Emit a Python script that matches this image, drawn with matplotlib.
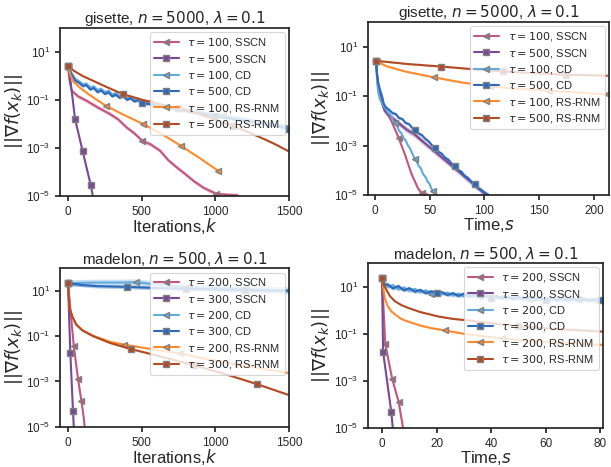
import numpy as np
import matplotlib
matplotlib.use('Agg')
import matplotlib.pyplot as plt
import seaborn as sns

# ---- colours ----
C_SSCN_A = '#c2577f'   # small tau SSCN
C_SSCN_B = '#7b4896'   # large tau SSCN
C_CD_A = '#62a9dc'
C_CD_B = '#2c69b8'
C_RS_A = '#ff8a2b'
C_RS_B = '#b24a22'

# ===== gisette, iterations (values as log10 ||grad||) =====
gi_sscn100_k = [0, 12, 25, 70, 127, 200, 285, 340, 398, 450, 505, 560, 625, 680, 738, 800, 851, 920, 1005, 1080, 1150]
gi_sscn100_e = [0.40, -0.25, -0.61, -0.85, -1.03, -1.30, -1.58, -1.80, -2.14, -2.38, -2.70, -2.84, -3.11, -3.50,
                -3.80, -4.10, -4.36, -4.65, -4.90, -4.94, -4.96]
gi_sscn500_k = [0, 8, 14, 48, 100, 154, 172]
gi_sscn500_e = [0.40, 0.10, -0.05, -1.79, -3.14, -4.53, -5.10]
gi_cd_k = [0, 25, 50, 75, 100, 125, 150, 175, 200, 225, 250, 275, 300, 325, 350, 375, 400, 425, 450, 475, 500,
           550, 600, 650, 700, 750, 800, 850, 900, 950, 1000, 1050, 1100, 1150, 1200, 1250, 1300, 1350, 1400, 1450, 1500]
gi_cd500_e = [0.40, 0.05, -0.20, -0.28, -0.42, -0.38, -0.56, -0.50, -0.67, -0.60, -0.75, -0.68, -0.85, -0.78,
              -0.91, -0.85, -0.99, -0.93, -1.06, -1.01, -1.13, -1.17, -1.23, -1.30, -1.34, -1.43, -1.45, -1.53,
              -1.55, -1.64, -1.66, -1.73, -1.77, -1.83, -1.87, -1.93, -1.97, -2.04, -2.07, -2.14, -2.22]
gi_cd100_e = [0.40, 0.12, -0.12, -0.22, -0.34, -0.31, -0.47, -0.43, -0.58, -0.53, -0.67, -0.61, -0.77, -0.71,
              -0.84, -0.78, -0.92, -0.86, -0.99, -0.93, -1.05, -1.10, -1.17, -1.21, -1.28, -1.33, -1.38, -1.44,
              -1.49, -1.55, -1.59, -1.64, -1.70, -1.74, -1.80, -1.85, -1.90, -1.95, -2.00, -2.05, -2.10]
gi_rs100_k = [0, 15, 36, 80, 127, 190, 258, 380, 511, 640, 765, 890, 1021]
gi_rs100_e = [0.40, 0.05, -0.22, -0.48, -0.70, -0.97, -1.24, -1.62, -2.00, -2.43, -2.90, -3.40, -3.95]
gi_rs500_k = [0, 40, 100, 172, 260, 371, 500, 625, 750, 851, 960, 1120, 1190, 1304, 1400, 1500]
gi_rs500_e = [0.40, 0.22, 0.00, -0.20, -0.45, -0.75, -0.98, -1.17, -1.35, -1.51, -1.72, -2.09, -2.25, -2.55,
              -2.82, -3.14]

# ===== gisette, time =====
gt_sscn100_t = [1, 2.5, 5.8, 10, 15, 21.7, 27.2, 33.3, 39.4, 43, 48]
gt_sscn100_e = [0.43, -0.50, -1.20, -1.60, -2.00, -2.69, -3.33, -4.13, -4.73, -4.93, -4.97]
gt_sscn500_t = [1, 3, 5, 8.9, 15, 22, 29, 36.4, 45, 53, 61, 70, 78, 86, 94, 100.6]
gt_sscn500_e = [0.43, -0.60, -1.10, -1.60, -1.85, -2.10, -2.35, -2.55, -2.88, -3.17, -3.47, -3.80, -4.10,
                -4.40, -4.70, -4.96]
gt_cd100_t = [1, 2, 3, 4.5, 6, 8, 10, 12, 14, 16, 18, 20, 22, 24, 26, 28, 30, 32, 34, 36.4, 38, 40, 42, 44,
              46, 48, 50, 52, 53.2, 54.7]
gt_cd100_e = [0.43, -0.40, -0.85, -1.10, -1.25, -1.40, -1.52, -1.66, -1.75, -1.93, -2.07, -2.18, -2.40, -2.48,
              -2.68, -2.78, -2.98, -3.10, -3.30, -3.53, -3.62, -3.82, -3.92, -4.15, -4.25, -4.45, -4.55, -4.78,
              -4.83, -4.97]
gt_cd500_t = [1, 2, 3.5, 5, 6.5, 8, 10, 13, 16, 19, 22, 25, 28, 31, 34, 37, 40, 43, 46, 49, 52, 55, 58, 61,
              64, 67, 70, 73, 76, 79, 82, 85, 88, 91, 94, 97, 100, 103.6]
gt_cd500_e = [0.43, -0.20, -0.55, -0.80, -1.00, -1.30, -1.45, -1.55, -1.68, -1.72, -1.88, -1.92, -2.08, -2.12,
              -2.28, -2.35, -2.50, -2.58, -2.72, -2.82, -2.98, -3.08, -3.24, -3.32, -3.48, -3.56, -3.72, -3.82,
              -3.98, -4.05, -4.22, -4.30, -4.46, -4.56, -4.72, -4.78, -4.88, -4.98]
gt_rs100_t = [1, 10, 27.5, 54, 80, 105.5, 130, 159, 185, 212]
gt_rs100_e = [0.43, 0.22, 0.00, -0.24, -0.45, -0.60, -0.70, -0.77, -0.85, -0.93]
gt_rs500_t = [1, 30, 60, 90, 117, 145, 175, 212]
gt_rs500_e = [0.43, 0.30, 0.20, 0.09, 0.00, -0.07, -0.13, -0.17]

# ===== madelon, iterations =====
mi_sscn200_k = [0, 39, 68, 91, 107, 115]
mi_sscn200_e = [1.33, -1.42, -2.88, -3.85, -4.60, -5.10]
mi_sscn300_k = [0, 16, 34, 40]
mi_sscn300_e = [1.33, -1.75, -4.29, -5.10]
mi_cd200_k = [0, 100, 200, 330, 461, 600, 807, 1000, 1200, 1500]
mi_cd200_e = [1.33, 1.35, 1.36, 1.36, 1.37, 1.28, 1.17, 1.12, 1.08, 1.02]
mi_cd300_k = [0, 100, 200, 398, 600, 800, 1000, 1200, 1500]
mi_cd300_e = [1.33, 1.25, 1.20, 1.17, 1.12, 1.09, 1.06, 1.03, 1.00]
mi_rs200_k = [0, 5, 12, 30, 57, 100, 170, 284, 380, 500, 670, 760, 900, 1136, 1300, 1500]
mi_rs200_e = [1.33, 0.80, 0.22, -0.15, -0.50, -0.75, -0.98, -1.25, -1.375, -1.50, -1.68, -1.76, -1.96,
              -2.24, -2.42, -2.63]
mi_rs300_k = [0, 5, 12, 30, 57, 100, 170, 284, 427, 600, 852, 1060, 1280, 1500]
mi_rs300_e = [1.33, 0.80, 0.22, -0.15, -0.50, -0.76, -1.00, -1.30, -1.57, -1.85, -2.28, -2.66, -3.11, -3.60]

# ===== madelon, time =====
mt_sscn200_t = [0, 1.2, 3.7, 6.1, 7.8]
mt_sscn200_e = [1.38, -1.44, -2.90, -3.89, -5.05]
mt_sscn300_t = [0, 0.4, 1.5, 3.4, 4.0]
mt_sscn300_e = [1.38, -1.76, -2.70, -4.31, -5.05]
mt_cd_t = [0, 1, 2, 4, 6, 8, 10, 12, 14, 16, 18, 20, 22, 24, 26, 28, 30, 32, 34, 36, 38, 40, 42, 44, 46, 48,
           50, 52, 54, 56, 58, 60, 62, 64, 66, 68, 70, 72, 74, 76, 78, 80]
mt_cd200_e = [1.38, 1.10, 0.98, 1.06, 0.88, 0.96, 0.82, 0.90, 0.76, 0.84, 0.70, 0.78, 0.68, 0.74, 0.62, 0.70,
              0.59, 0.67, 0.56, 0.62, 0.54, 0.60, 0.51, 0.58, 0.49, 0.56, 0.47, 0.54, 0.46, 0.52, 0.44, 0.51,
              0.43, 0.49, 0.42, 0.48, 0.41, 0.47, 0.40, 0.46, 0.40, 0.44]
mt_cd300_e = [1.38, 1.05, 1.10, 0.92, 1.02, 0.84, 0.93, 0.78, 0.86, 0.72, 0.80, 0.72, 0.76, 0.64, 0.72, 0.60,
              0.70, 0.58, 0.66, 0.54, 0.63, 0.52, 0.60, 0.50, 0.58, 0.47, 0.56, 0.46, 0.55, 0.44, 0.53, 0.45,
              0.52, 0.42, 0.50, 0.43, 0.49, 0.40, 0.48, 0.41, 0.46, 0.42]
mt_rs200_t = [0, 0.5, 1, 2, 3.4, 5, 6.5, 8, 10, 14, 18, 23, 30, 37, 44, 52, 64.7, 75, 83]
mt_rs200_e = [1.38, 0.90, 0.52, 0.20, -0.05, -0.20, -0.33, -0.42, -0.50, -0.65, -0.76, -0.86, -1.00, -1.10,
              -1.20, -1.28, -1.37, -1.43, -1.48]
mt_rs300_t = [0, 0.5, 1.6, 3, 4.7, 7, 9.5, 14, 20.7, 26, 32.9, 41, 50, 58, 67.2, 75, 83]
mt_rs300_e = [1.38, 1.10, 0.86, 0.58, 0.38, 0.22, 0.10, -0.08, -0.27, -0.37, -0.45, -0.57, -0.68, -0.76,
              -0.82, -0.87, -0.92]

sns.set_theme(style='ticks')
plt.rcParams['font.family'] = ['Liberation Sans', 'DejaVu Sans']
plt.rcParams['mathtext.fontset'] = 'dejavusans'


def curve(ax, x, e, color, marker, label, marks, band):
    x = np.asarray(x, float)
    y = 10.0 ** np.asarray(e, float)
    ax.fill_between(x, y * 10 ** -band, y * 10 ** band, color=color, alpha=0.35, lw=0)
    ax.plot(x, y, '-', color=color, lw=1.5, marker=marker, markevery=marks, ms=5,
            mfc=color, mec='gray', mew=1.0, label=label)


def finish(ax, title, xlabel, xlim, xticks):
    ax.set_yscale('log')
    ax.set_ylim(1e-5, 1e2)
    ax.set_yticks([1e-5, 1e-3, 1e-1, 1e1])
    ax.yaxis.set_minor_locator(matplotlib.ticker.NullLocator())
    ax.set_xlim(*xlim)
    ax.set_xticks(xticks)
    ax.tick_params(labelsize=8.5, length=3.5)
    ax.set_title(title, fontsize=11, pad=2)
    ax.set_xlabel(xlabel, fontsize=12, labelpad=-1)
    ax.set_ylabel(r'$||\nabla f(x_k)||$', fontsize=13, labelpad=1)
    leg = ax.legend(loc='upper right', fontsize=8, frameon=True, framealpha=0.8, edgecolor='0.8',
                    labelspacing=0.3, handlelength=2.2, borderpad=0.35, borderaxespad=0.4, handletextpad=0.8)
    leg.get_frame().set_linewidth(0.8)


fig = plt.figure(figsize=(6.11, 4.67), dpi=100)
axA = fig.add_axes([0.098, 0.580, 0.375, 0.360])
axB = fig.add_axes([0.602, 0.582, 0.395, 0.371])
axC = fig.add_axes([0.098, 0.086, 0.375, 0.340])
axD = fig.add_axes([0.602, 0.083, 0.385, 0.354])

# gisette iterations
curve(axA, gi_sscn100_k, gi_sscn100_e, C_SSCN_A, '<', r'$\tau = 100$, SSCN', [0, 10, 18], 0.08)
curve(axA, gi_sscn500_k, gi_sscn500_e, C_SSCN_B, 's', r'$\tau = 500$, SSCN', [0, 3, 4, 5], 0.04)
curve(axA, gi_cd_k, gi_cd100_e, C_CD_A, '<', r'$\tau = 100$, CD', [0, 21, 31], 0.06)
curve(axA, gi_cd_k, gi_cd500_e, C_CD_B, 's', r'$\tau = 500$, CD', [0, 20, 30, 40], 0.05)
curve(axA, gi_rs100_k, gi_rs100_e, C_RS_A, '<', r'$\tau = 100$, RS-RNM', [0, 6, 8, 10, 12], 0.02)
curve(axA, gi_rs500_k, gi_rs500_e, C_RS_B, 's', r'$\tau = 500$, RS-RNM', [0, 5, 8, 11], 0.02)
finish(axA, r'gisette, $n = 5000$, $\lambda = 0.1$', r'Iterations,$k$', (-55, 1500), [0, 500, 1000, 1500])

# gisette time
curve(axB, gt_sscn100_t, gt_sscn100_e, C_SSCN_A, '<', r'$\tau = 100$, SSCN', [0, 5, 9], 0.07)
curve(axB, gt_sscn500_t, gt_sscn500_e, C_SSCN_B, 's', r'$\tau = 500$, SSCN', [0], 0.12)
curve(axB, gt_cd100_t, gt_cd100_e, C_CD_A, '<', r'$\tau = 100$, CD', [0, 10, 19, 28], 0.06)
curve(axB, gt_cd500_t, gt_cd500_e, C_CD_B, 's', r'$\tau = 500$, CD', [0, 15, 21, 27, 33], 0.06)
curve(axB, gt_rs100_t, gt_rs100_e, C_RS_A, '<', r'$\tau = 100$, RS-RNM', [0, 3, 5, 7, 9], 0.02)
curve(axB, gt_rs500_t, gt_rs500_e, C_RS_B, 's', r'$\tau = 500$, RS-RNM', [0, 2, 4, 6], 0.02)
finish(axB, r'gisette, $n = 5000$, $\lambda = 0.1$', r'Time,$s$', (-6.5, 214), [0, 50, 100, 150, 200])

# madelon iterations
curve(axC, mi_sscn200_k, mi_sscn200_e, C_SSCN_A, '<', r'$\tau = 200$, SSCN', [0, 1, 2, 3], 0.1)
curve(axC, mi_sscn300_k, mi_sscn300_e, C_SSCN_B, 's', r'$\tau = 300$, SSCN', [0, 1, 2], 0.05)
curve(axC, mi_cd200_k, mi_cd200_e, C_CD_A, '<', r'$\tau = 200$, CD', [0, 4, 6, 8], 0.15)
curve(axC, mi_cd300_k, mi_cd300_e, C_CD_B, 's', r'$\tau = 300$, CD', [0, 3, 5, 7], 0.08)
curve(axC, mi_rs200_k, mi_rs200_e, C_RS_A, '<', r'$\tau = 200$, RS-RNM', [0, 8, 11, 13], 0.03)
curve(axC, mi_rs300_k, mi_rs300_e, C_RS_B, 's', r'$\tau = 300$, RS-RNM', [0, 8, 10, 12], 0.03)
finish(axC, r'madelon, $n = 500$, $\lambda = 0.1$', r'Iterations,$k$', (-55, 1500), [0, 500, 1000, 1500])

# madelon time
curve(axD, mt_sscn200_t, mt_sscn200_e, C_SSCN_A, '<', r'$\tau = 200$, SSCN', [0, 1, 2, 3], 0.1)
curve(axD, mt_sscn300_t, mt_sscn300_e, C_SSCN_B, 's', r'$\tau = 300$, SSCN', [0, 1, 3], 0.05)
curve(axD, mt_cd_t, mt_cd200_e, C_CD_A, '<', r'$\tau = 200$, CD', [0, 10, 19, 28, 37], 0.08)
curve(axD, mt_cd_t, mt_cd300_e, C_CD_B, 's', r'$\tau = 300$, CD', [0, 11, 21, 31, 41], 0.08)
curve(axD, mt_rs200_t, mt_rs200_e, C_RS_A, '<', r'$\tau = 200$, RS-RNM', [0, 11, 14, 16], 0.02)
curve(axD, mt_rs300_t, mt_rs300_e, C_RS_B, 's', r'$\tau = 300$, RS-RNM', [0, 12], 0.02)
finish(axD, r'madelon, $n = 500$, $\lambda = 0.1$', r'Time,$s$', (-5.2, 81), [0, 20, 40, 60, 80])

fig.savefig('out.png', dpi=100)
